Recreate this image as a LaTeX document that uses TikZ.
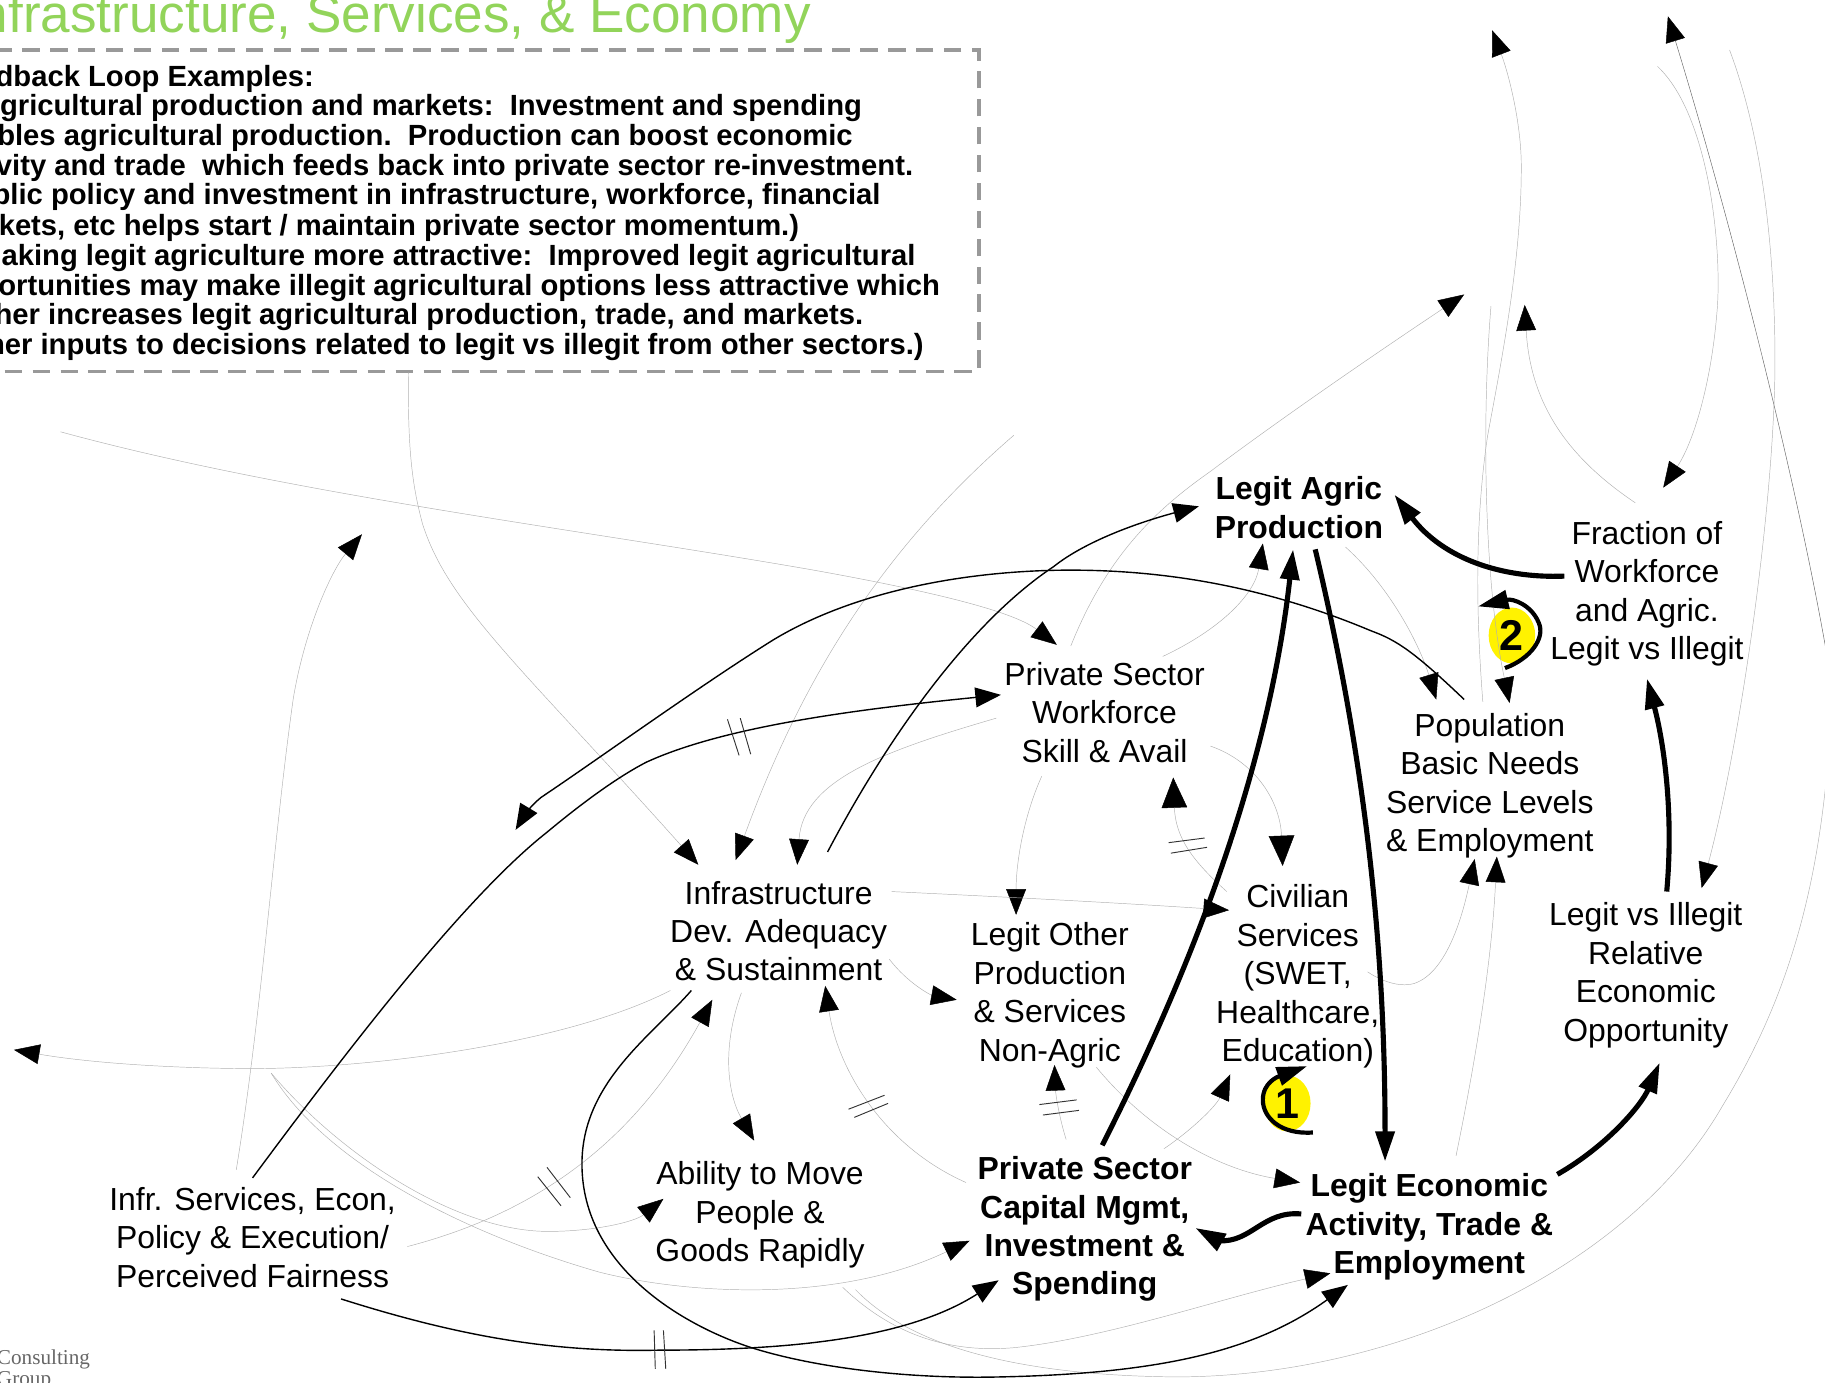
\documentclass[tikz,border=0pt]{standalone}
\usepackage{fontspec}
\setmainfont{Liberation Sans}
\newfontfamily\serifgroup{Liberation Serif}
\usetikzlibrary{arrows.meta,shapes.geometric}
\definecolor{titlegreen}{HTML}{92D45A}
\definecolor{hair}{HTML}{B0B0B0}
\tikzset{
  lbl/.style={align=center,inner sep=0pt,font=\fontsize{13.7}{16.5}\selectfont},
  blbl/.style={lbl,font=\fontsize{13.7}{16.5}\selectfont\bfseries},
  boxln/.style={anchor=base east,inner sep=0pt,font=\fontsize{12.55}{13}\selectfont\bfseries},
  headS/.style={-{Triangle[length=11pt,width=8.5pt]}},
  headT/.style={-{Triangle[length=13pt,width=8pt]}},
  thickln/.style={line width=2.2pt,headT},
  medln/.style={line width=0.6pt,headS},
  thinln/.style={line width=0.2pt,draw=hair,-{Triangle[length=11pt,width=8.5pt,fill=black,color=black]}},
  thinbig/.style={-{Triangle[length=13pt,width=11pt,fill=black,color=black]}},
  tick/.style={line width=0.4pt,draw=black!80},
  loopmark/.style={ellipse,fill=yellow,minimum width=20pt,minimum height=24pt,inner sep=0pt,font=\fontsize{18.5}{18.5}\selectfont\bfseries},
}
\begin{document}
\begin{tikzpicture}[x=0.5pt,y=-0.5pt]
\useasboundingbox (0,0) rectangle (1568,1188);
\clip (0,0) rectangle (1568,1188);
% title and text box
\node[anchor=base east,inner sep=0pt,text=titlegreen,font=\fontsize{22.8}{24}\selectfont] (title) at (697,28) {nfrastructure, Services, \& Economy};
\node[draw=black!40,line width=1.5pt,dash pattern=on 7.5pt off 4.5pt,minimum width=430.5pt,minimum height=138pt,inner sep=0pt,outer sep=0pt,anchor=north east] (box) at (841,43) {};
\node[boxln] (b1) at (270,74) {dback Loop Examples:};
\node[boxln] (b2) at (741,99) {gricultural production and markets:\ \ Investment and spending};
\node[boxln] (b3) at (733,125) {bles agricultural production.\ \ Production can boost economic};
\node[boxln] (b4) at (785,151) {vity and trade\ \ which feeds back into private sector re-investment.};
\node[boxln] (b5) at (757,176) {blic policy and investment in infrastructure, workforce, financial};
\node[boxln] (b6) at (687,202) {kets, etc helps start / maintain private sector momentum.)};
\node[boxln] (b7) at (787,228) {aking legit agriculture more attractive:\ \ Improved legit agricultural};
\node[boxln] (b8) at (808,254) {ortunities may make illegit agricultural options less attractive which};
\node[boxln] (b9) at (742,279) {her increases legit agricultural production, trade, and markets.};
\node[boxln] (b10) at (794,305) {her inputs to decisions related to legit vs illegit from other sectors.)};
\node[anchor=north west,align=left,inner sep=0pt,text=black!60,font=\serifgroup\fontsize{9.1}{6}\selectfont] (cg) at (-3,1159) {Consulting\\Group};
% variable nodes
\node[blbl] (legit) at (1116,436) {Legit Agric\\Production};
\node[lbl] (frac) at (1415,510) {Fraction of\\Workforce\\and Agric.\\Legit vs Illegit};
\node[lbl] (pop) at (1280,675) {Population\\Basic Needs\\Service Levels\\\& Employment};
\node[lbl] (psw) at (949,612) {Private Sector\\Workforce\\Skill \& Avail};
\node[lbl] (civ) at (1115,839) {Civilian\\Services\\(SWET,\\Healthcare,\\Education)};
\node[lbl] (infra) at (669,800) {Infrastructure\\Dev. Adequacy\\\& Sustainment};
\node[lbl] (lop) at (902,855) {Legit Other\\Production\\\& Services\\Non-Agric};
\node[lbl] (rel) at (1414,838) {Legit vs Illegit\\Relative\\Economic\\Opportunity};
\node[lbl] (move) at (653,1044) {Ability to Move\\People \&\\Goods Rapidly};
\node[blbl] (cap) at (932,1056) {Private Sector\\Capital Mgmt,\\Investment \&\\Spending};
\node[blbl] (econ) at (1228,1054) {Legit Economic\\Activity, Trade \&\\Employment};
\node[lbl] (infr) at (217,1063) {Infr. Services, Econ,\\Policy \& Execution/\\Perceived Fairness};
% loop markers
\node[loopmark] (lp1) at (1106,948) {1};
\node[loopmark] (lp2) at (1299,546) {2};
% free ends
\coordinate (m2e) at (443,713);
\coordinate (g1s) at (52,371);
\coordinate (g2s) at (351,320);
\coordinate (g3s) at (871,374);
\coordinate (g9e) at (1258,253);
\coordinate (g15e) at (12,902);
\coordinate (g16e) at (311,459);
\coordinate (g17s) at (233,922);
\coordinate (g20a) at (724,1106);
\coordinate (g20b) at (735,1108);
\coordinate (g20e) at (1570,660);
\coordinate (g21s) at (1570,565);
\coordinate (g21e) at (1433,14);
\coordinate (g22s) at (1424,57);
\coordinate (g23s) at (1486,43);
\coordinate (g24e) at (1310,262);
\coordinate (g25e) at (1282,26);
\coordinate (g25s) at (1281,263);
% hair connectors
\begin{scope}[every path/.append style={thinln}]
\draw (g1s) .. controls (250,425) and (500,455) .. (700,490) .. controls (800,508) and (870,525) .. ([shift={(-41,-58)}]psw.center);
\draw (g2s) .. controls (350,390) and (355,420) .. (363,450) .. controls (385,520) and (450,575) .. ([shift={(-69,-57)}]infra.center);
\draw (g3s) .. controls (760,470) and (690,580) .. ([shift={(-37,-61)}]infra.center);
\draw ([shift={(-93,5)}]psw.center) .. controls (760,645) and (690,670) .. ([shift={(16,-57)}]infra.center);
\draw ([shift={(-54,55)}]psw.center) .. controls (880,700) and (873,740) .. ([shift={(-29,-69)}]lop.center);
\draw[thinbig] ([shift={(91,29)}]psw.center) .. controls (1080,655) and (1100,690) .. ([shift={(-13,-95)}]civ.center);
\draw[thinbig] ([shift={(-61,-73)}]civ.center) .. controls (1025,740) and (1010,720) .. ([shift={(59,56)}]psw.center);
\draw ([shift={(50,-48)}]psw.center) .. controls (1050,540) and (1078,510) .. ([shift={(-31,31)}]legit.center);
\draw ([shift={(-29,-57)}]psw.center) .. controls (950,480) and (990,440) .. (1040,405) .. controls (1100,360) and (1180,305) .. (g9e);
\draw ([shift={(97,-34)}]infra.center) .. controls (850,770) and (950,775) .. ([shift={(-59,-57)}]civ.center);
\draw ([shift={(95,24)}]infra.center) .. controls (780,845) and (800,855) .. ([shift={(-80,4)}]lop.center);
\draw ([shift={(-32,53)}]infra.center) .. controls (620,900) and (625,940) .. ([shift={(-5,-64)}]move.center);
\draw ([shift={(-102,-40)}]cap.center) .. controls (760,985) and (720,920) .. ([shift={(40,47)}]infra.center);
\draw ([shift={(-16,-77)}]cap.center) .. controls (910,960) and (907,940) .. ([shift={(4,60)}]lop.center);
\draw ([shift={(-93,51)}]infra.center) .. controls (480,900) and (300,920) .. (200,918) .. controls (130,917) and (70,912) .. (g15e);
\draw ([shift={(-14,-58)}]infr.center) .. controls (225,870) and (235,720) .. (252,600) .. controls (262,540) and (285,490) .. (g16e);
\draw (g17s) .. controls (290,990) and (390,1058) .. (471,1058) .. controls (510,1058) and (545,1050) .. ([shift={(-83,-14)}]move.center);
\draw (g17s) .. controls (280,1000) and (400,1060) .. (515,1093) .. controls (590,1112) and (720,1120) .. ([shift={(-99,10)}]cap.center);
\draw ([shift={(133,8)}]infr.center) .. controls (450,1045) and (540,990) .. ([shift={(-57,59)}]infra.center);
\draw (g20a) .. controls (770,1150) and (820,1162) .. (870,1158) .. controls (950,1150) and (1050,1115) .. ([shift={(-85,40)}]econ.center);
\draw[-] (g20b) .. controls (790,1165) and (900,1182) .. (1010,1183) .. controls (1200,1183) and (1400,1090) .. (1480,950) .. controls (1535,860) and (1560,770) .. (g20e);
\draw[draw=black!60] (g21s) .. controls (1545,420) and (1490,200) .. (g21e);
\draw (g22s) .. controls (1470,100) and (1480,220) .. (1475,270) .. controls (1470,330) and (1455,380) .. ([shift={(14,-91)}]frac.center);
\draw (g23s) .. controls (1515,120) and (1525,220) .. (1525,310) .. controls (1525,430) and (1495,640) .. ([shift={(48,-75)}]rel.center);
\draw ([shift={(-10,-78)}]frac.center) .. controls (1350,395) and (1315,350) .. (g24e);
\draw ([shift={(-6,-72)}]pop.center) .. controls (1266,500) and (1270,430) .. (1278,375) .. controls (1290,310) and (1308,220) .. (1307,138) .. controls (1306,100) and (1295,60) .. (g25e);
\draw (g25s) .. controls (1273,360) and (1275,500) .. ([shift={(17,-71)}]pop.center);
\draw ([shift={(40,34)}]legit.center) .. controls (1195,505) and (1220,555) .. ([shift={(-46,-74)}]pop.center);
\draw ([shift={(60,-4)}]civ.center) .. controls (1190,845) and (1205,848) .. (1215,845) .. controls (1245,835) and (1258,780) .. ([shift={(-13,63)}]pop.center);
\draw ([shift={(23,-61)}]econ.center) .. controls (1270,900) and (1282,820) .. ([shift={(6,61)}]pop.center);
\draw ([shift={(40,62)}]lop.center) .. controls (990,975) and (1050,1005) .. ([shift={(-111,-38)}]econ.center);
\draw ([shift={(68,-69)}]cap.center) .. controls (1025,970) and (1045,950) .. ([shift={(-58,84)}]civ.center);
\end{scope}
% medium connectors
\draw[medln] ([shift={(0,-51)}]infr.center) .. controls (300,900) and (400,770) .. (470,715) .. controls (500,690) and (530,668) .. (555,655) .. controls (620,625) and (730,610) .. ([shift={(-89,-15)}]psw.center);
\draw[medln] ([shift={(-22,-74)}]pop.center) .. controls (1215,560) and (1200,550) .. (1178,542) .. controls (1090,505) and (1000,488) .. (905,490) .. controls (820,492) and (730,510) .. (664,550) .. controls (600,590) and (510,655) .. (465,685) .. controls (455,693) and (449,703) .. (m2e);
\draw[medln] ([shift={(42,-68)}]infra.center) .. controls (770,620) and (840,530) .. (905,487) .. controls (935,463) and (985,447) .. ([shift={(-86,-1)}]legit.center);
\draw[medln] ([shift={(76,53)}]infr.center) .. controls (400,1150) and (480,1162) .. (567,1160) .. controls (680,1160) and (780,1150) .. ([shift={(-74,44)}]cap.center);
\draw[medln] ([shift={(-75,51)}]infra.center) .. controls (560,890) and (500,930) .. (500,1000) .. controls (500,1090) and (590,1140) .. (646,1158) .. controls (700,1175) and (780,1185) .. (860,1183) .. controls (1000,1180) and (1080,1160) .. ([shift={(-70,50)}]econ.center);
% thick connectors
\draw[thickln] ([shift={(-71,-15)}]frac.center) .. controls (1290,497) and (1240,480) .. ([shift={(82,-11)}]legit.center);
\draw[thickln] ([shift={(15,-72)}]cap.center) .. controls (1025,830) and (1090,660) .. ([shift={(-5,36)}]legit.center);
\draw[thickln] ([shift={(14,36)}]legit.center) .. controls (1170,640) and (1190,800) .. ([shift={(-38,-56)}]econ.center);
\draw[thickln] ([shift={(110,-45)}]econ.center) .. controls (1380,985) and (1410,950) .. ([shift={(12,75)}]rel.center);
\draw[thickln] ([shift={(18,-72)}]rel.center) .. controls (1438,700) and (1430,640) .. ([shift={(0,73)}]frac.center);
\draw[thickln] ([shift={(-110,-11)}]econ.center) .. controls (1085,1040) and (1075,1068) .. (1047,1066) -- ([shift={(95,-1)}]cap.center);
% loop arcs
\draw[thickln,line width=1.8pt] ([shift={(22,25)}]lp1.center) .. controls (1100,975) and (1085,960) .. (1085,945) .. controls (1085,930) and (1098,925) .. ([shift={(17,-32)}]lp1.center);
\draw[thickln,line width=1.8pt] ([shift={(-6,28)}]lp2.center) .. controls (1315,566) and (1328,548) .. (1322,535) .. controls (1316,520) and (1300,514) .. ([shift={(-29,-25)}]lp2.center);
% delay ticks
\draw[tick] (625,618) -- (635,649);
\draw[tick] (636,617) -- (645,648);
\draw[tick] (562,1143) -- (563,1176);
\draw[tick] (570,1143) -- (572,1176);
\draw[tick] (462,1011) -- (482,1036);
\draw[tick] (470,1003) -- (490,1029);
\draw[tick] (729,953) -- (760,941);
\draw[tick] (734,960) -- (763,948);
\draw[tick] (893,949) -- (925,945);
\draw[tick] (896,958) -- (927,954);
\draw[tick] (1004,724) -- (1035,720);
\draw[tick] (1006,733) -- (1037,728);
\end{tikzpicture}
\end{document}
